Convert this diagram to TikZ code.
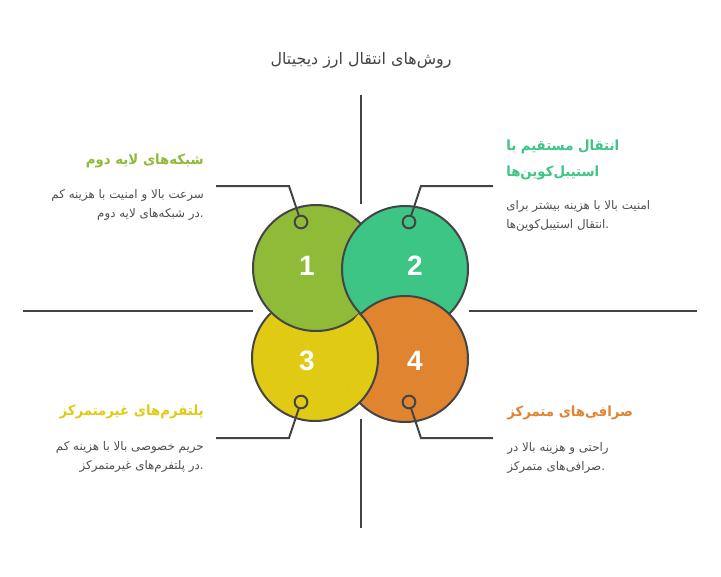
\documentclass[tikz,border=0pt]{standalone}
\usepackage{fontspec}
\setmainfont{Liberation Sans}
\newfontfamily\ar[Script=Arabic]{DejaVu Sans}
\newfontfamily\arh[Script=Arabic, FakeStretch=0.95]{DejaVu Sans}
\TeXXeTstate=1
\definecolor{cA}{HTML}{8FBB38}
\definecolor{cB}{HTML}{3CC584}
\definecolor{cC}{HTML}{E0CA14}
\definecolor{cD}{HTML}{E08430}
\definecolor{ln}{HTML}{444444}
\definecolor{tx}{HTML}{505050}
\tikzset{
  bubble/.style={draw=ln, line width=1.5pt},
  axisline/.style={draw=ln, line width=1.5pt},
  leader/.style={draw=ln, line width=1.5pt},
  marker/.style={circle, draw=ln, line width=1.5pt, minimum size=9.5pt, inner sep=0pt},
  num/.style={text=white, font=\fontsize{21}{21}\bfseries\selectfont, inner sep=0pt},
  ttl/.style={font=\ar\fontsize{11.9}{13}\selectfont, text=ln, inner sep=0pt},
  head/.style={font=\arh\bfseries\fontsize{10.5}{12}\selectfont, inner sep=0pt},
  body/.style={font=\ar\fontsize{8.9}{10}\selectfont, text=tx, inner sep=0pt},
}
\begin{document}
\begin{tikzpicture}[x=0.75pt,y=-0.75pt]
\useasboundingbox[fill=white] (0,0) rectangle (721,576);

% axes
\coordinate (vt1) at (361,95);  \coordinate (vt2) at (361,204);
\coordinate (vb1) at (361,419); \coordinate (vb2) at (361,528);
\coordinate (hl1) at (23,311);  \coordinate (hl2) at (253,311);
\coordinate (hr1) at (469,311); \coordinate (hr2) at (697,311);
\draw[axisline] (vt1) -- (vt2);
\draw[axisline] (vb1) -- (vb2);
\draw[axisline] (hl1) -- (hl2);
\draw[axisline] (hr1) -- (hr2);

% woven circles: order 3,1,2,4 then 3 over 4
\fill[cC] (315,358) circle (63); \draw[bubble] (315,358) circle (63);
\fill[cA] (316,268) circle (63); \draw[bubble] (316,268) circle (63);
\fill[cB] (405,269) circle (63); \draw[bubble] (405,269) circle (63);
\fill[cD] (405,359) circle (63); \draw[bubble] (405,359) circle (63);
\begin{scope}
  \clip (405,359) circle (64.5);
  \fill[cC] (315,358) circle (63); \draw[bubble] (315,358) circle (63);
\end{scope}

% numbers
\node[num] (n1) at (307,266) {1};
\node[num] (n2) at (415,266) {2};
\node[num] (n3) at (307,361) {3};
\node[num] (n4) at (415,361) {4};

% markers and leaders
\node[marker] (m1) at (301,222) {};
\node[marker] (m2) at (409,222) {};
\node[marker] (m3) at (301,402) {};
\node[marker] (m4) at (409,402) {};
\coordinate (e1) at (289,186); \coordinate (f1) at (216,186);
\coordinate (e2) at (421,186); \coordinate (f2) at (493,186);
\coordinate (e3) at (289,438); \coordinate (f3) at (216,438);
\coordinate (e4) at (421,438); \coordinate (f4) at (493,438);
\draw[leader] (m1) -- (e1) -- (f1);
\draw[leader] (m2) -- (e2) -- (f2);
\draw[leader] (m3) -- (e3) -- (f3);
\draw[leader] (m4) -- (e4) -- (f4);

% title
\node[ttl] (title) at (361,60) {\beginR روش‌های انتقال ارز دیجیتال\endR};

% block 1
\node[head, text=cA, anchor=east] (h1) at (204,161) {\beginR شبکه‌های لایه دوم\endR};
\node[body, anchor=east] (b1a) at (204,195) {\beginR سرعت بالا و امنیت با هزینه کم\endR};
\node[body, anchor=east] (b1b) at (204,214) {\beginR در شبکه‌های لایه دوم\endR.};

% block 2
\node[head, text=cB, anchor=west] (h2a) at (506,147) {\beginR انتقال مستقیم با\endR};
\node[head, text=cB, anchor=west] (h2b) at (506,173) {\beginR استیبل‌کوین‌ها\endR};
\node[body, anchor=west] (b2a) at (506,206) {\beginR امنیت بالا با هزینه بیشتر برای\endR};
\node[body, anchor=west] (b2b) at (506,225) {\beginR انتقال استیبل‌کوین‌ها\endR.};

% block 3
\node[head, text=cC, anchor=east] (h3) at (204,412) {\beginR پلتفرم‌های غیرمتمرکز\endR};
\node[body, anchor=east] (b3a) at (204,447) {\beginR حریم خصوصی بالا با هزینه کم\endR};
\node[body, anchor=east] (b3b) at (204,466) {\beginR در پلتفرم‌های غیرمتمرکز\endR.};

% block 4
\node[head, text=cD, anchor=west] (h4) at (507,413) {\beginR صرافی‌های متمرکز\endR};
\node[body, anchor=west] (b4a) at (507,448) {\beginR راحتی و هزینه بالا در\endR};
\node[body, anchor=west] (b4b) at (507,467) {\beginR صرافی‌های متمرکز\endR.};
\end{tikzpicture}
\end{document}
